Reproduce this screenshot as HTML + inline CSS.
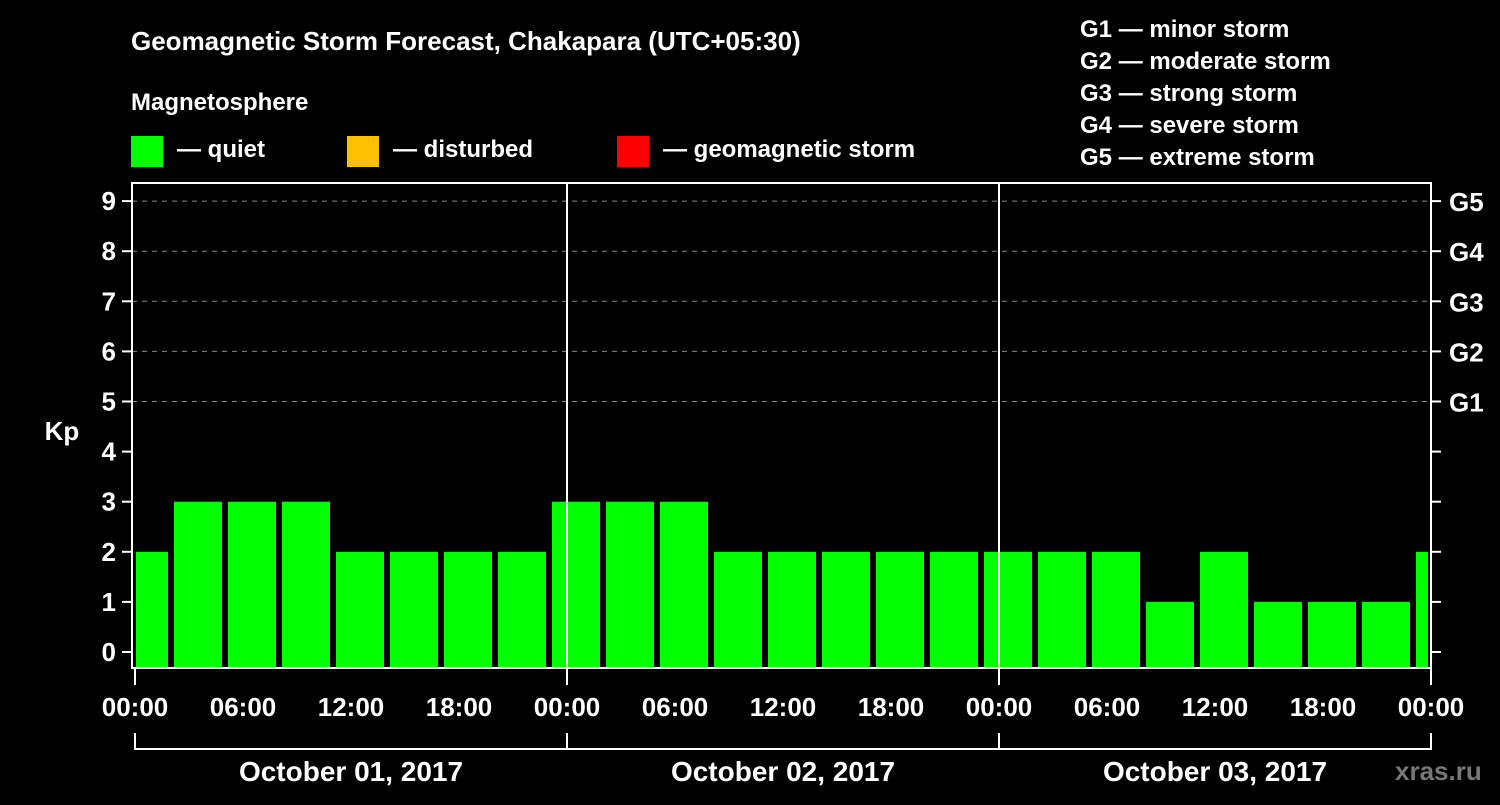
<!DOCTYPE html>
<html><head><meta charset="utf-8"><style>
body{margin:0;background:#000;width:1500px;height:800px;overflow:hidden;font-family:"Liberation Sans",sans-serif}
svg text{font-family:"Liberation Sans",sans-serif;font-weight:bold;fill:#fff}
</style></head><body>
<svg id="c" width="1500" height="800" viewBox="0 0 1500 800">
<text x="131" y="50" font-size="26">Geomagnetic Storm Forecast, Chakapara (UTC+05:30)</text>
<text x="131" y="110" font-size="24">Magnetosphere</text>
<g><rect x="131" y="136" width="32" height="31" fill="#00ff00"/><text x="177" y="157" font-size="24">— quiet</text></g>
<g><rect x="347" y="136" width="32" height="31" fill="#ffc000"/><text x="393" y="157" font-size="24">— disturbed</text></g>
<g><rect x="617" y="136" width="32" height="31" fill="#ff0000"/><text x="663" y="157" font-size="24">— geomagnetic storm</text></g>
<g font-size="24">
<text x="1080" y="37">G1 — minor storm</text>
<text x="1080" y="69">G2 — moderate storm</text>
<text x="1080" y="101">G3 — strong storm</text>
<text x="1080" y="133">G4 — severe storm</text>
<text x="1080" y="165">G5 — extreme storm</text>
</g>
<text x="62" y="440" font-size="26" text-anchor="middle">Kp</text>
<text x="1395" y="780" font-size="26" fill="#777" style="fill:#777">xras.ru</text>
<g id="plot"></g>
</svg>
<script>
const kpValues=[2,3,3,3,2,2,2,2,3,3,3,2,2,2,2,2,2,2,2,1,2,1,1,1,2];
const barStartHours=-1; // first interval starts at -1h (local), each 3h
const yTicks=[0,1,2,3,4,5,6,7,8,9];
const gLabels=["G1","G2","G3","G4","G5"];
const xTickLabels=["00:00","06:00","12:00","18:00","00:00","06:00","12:00","18:00","00:00","06:00","12:00","18:00","00:00"];
const dayLabels=["October 01, 2017","October 02, 2017","October 03, 2017"];
const NS="http://www.w3.org/2000/svg";
const X0=135,PX_H=18,Y0=652,PX_K=50.1,TOP=183,BOT=668,LEFT=132,RIGHT=1431;
const xs=h=>X0+h*PX_H, ys=k=>Y0-k*PX_K;
const g=document.getElementById('plot');
function mk(t,a){const e=document.createElementNS(NS,t);for(const k in a)e.setAttribute(k,a[k]);g.appendChild(e);return e;}
// grid
[5,6,7,8,9].forEach(k=>{const e=mk('line',{x1:LEFT,x2:RIGHT,y1:ys(k),y2:ys(k),stroke:'#888','stroke-dasharray':'5,5','stroke-width':1});

});
// bars
kpValues.forEach((v,i)=>{let s=xs(barStartHours+i*3)+3,e2=xs(barStartHours+i*3+3)-3;s=Math.max(s,X0+1);e2=Math.min(e2,RIGHT-3);
const r=mk('rect',{x:s,y:ys(v),width:e2-s,height:BOT-ys(v),fill:v>=5?'#ff0000':(v>=4?'#ffc000':'#00ff00')});

});
// day separators
[24,48].forEach(h=>{const e=mk('line',{x1:xs(h),x2:xs(h),y1:TOP,y2:BOT,stroke:'#fff','stroke-width':2});

});
// frame
const f=mk('rect',{x:LEFT,y:TOP,width:RIGHT-LEFT,height:BOT-TOP,fill:'none',stroke:'#fff','stroke-width':2});


// y ticks
yTicks.forEach(k=>{mk('line',{x1:LEFT-10,x2:LEFT,y1:ys(k),y2:ys(k),stroke:'#fff','stroke-width':2});
mk('line',{x1:RIGHT,x2:RIGHT+10,y1:ys(k),y2:ys(k),stroke:'#fff','stroke-width':2});
const t=mk('text',{x:LEFT-16,y:ys(k)+9,'font-size':26,'text-anchor':'end'});t.textContent=k;

});
gLabels.forEach((l,i)=>{const t=mk('text',{x:1449,y:ys(5+i)+10,'font-size':26});t.textContent=l;

});
// x ticks
xTickLabels.forEach((l,i)=>{const x=xs(i*6);
if(i%4==0)mk('line',{x1:x,x2:x,y1:BOT,y2:BOT+17,stroke:'#fff','stroke-width':2});
const t=mk('text',{x:x,y:716,'font-size':26,'text-anchor':'middle'});t.textContent=l;

});
// day brackets
mk('line',{x1:xs(0),x2:xs(72),y1:749,y2:749,stroke:'#fff','stroke-width':2});
[0,24,48,72].forEach(h=>mk('line',{x1:xs(h),x2:xs(h),y1:733,y2:750,stroke:'#fff','stroke-width':2}));
dayLabels.forEach((l,i)=>{const t=mk('text',{x:xs(i*24+12),y:781,'font-size':28,'text-anchor':'middle'});t.textContent=l;

});
</script>
</body></html>
